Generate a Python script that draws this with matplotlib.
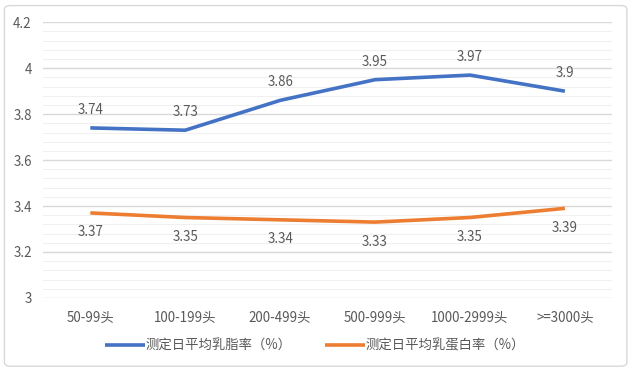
import matplotlib
matplotlib.use("Agg")
import matplotlib.pyplot as plt
from matplotlib.patches import FancyBboxPatch
from matplotlib.ticker import MultipleLocator

plt.rcParams['font.family'] = ['Noto Sans CJK SC', 'DejaVu Sans']

categories = ["50-99头", "100-199头", "200-499头", "500-999头", "1000-2999头", ">=3000头"]
fat_rate = [3.74, 3.73, 3.86, 3.95, 3.97, 3.90]
protein_rate = [3.37, 3.35, 3.34, 3.33, 3.35, 3.39]
fat_labels = ["3.74", "3.73", "3.86", "3.95", "3.97", "3.9"]
protein_labels = ["3.37", "3.35", "3.34", "3.33", "3.35", "3.39"]
series_names = ["测定日平均乳脂率（%）", "测定日平均乳蛋白率（%）"]

blue = "#4472C4"
orange = "#ED7D31"
text_color = "#595959"
fs = 9.6

fig = plt.figure(figsize=(6.3, 3.71), dpi=100)
border = FancyBboxPatch((0.007, 0.013), 0.988, 0.972, boxstyle="round,pad=0,rounding_size=0.01",
                        transform=fig.transFigure, facecolor="none", edgecolor="#D9D9D9", lw=1)
fig.patches.append(border)
ax = fig.add_axes([0.068, 0.197, 0.904, 0.743])

x = range(len(categories))
ax.plot(x, fat_rate, color=blue, lw=2.6, solid_capstyle="butt", label=series_names[0], zorder=3)
ax.plot(x, protein_rate, color=orange, lw=2.6, solid_capstyle="butt", label=series_names[1], zorder=3)

for i, (v, s) in enumerate(zip(fat_rate, fat_labels)):
    ax.annotate(s, (i, v), xytext=(0, 8), textcoords="offset points", ha="center", va="bottom",
                fontsize=fs, color=text_color)
for i, (v, s) in enumerate(zip(protein_rate, protein_labels)):
    ax.annotate(s, (i, v), xytext=(0, -9), textcoords="offset points", ha="center", va="top",
                fontsize=fs, color=text_color)

ax.set_xlim(-0.5, len(categories) - 0.5)
ax.set_ylim(3.0, 4.2)
ax.yaxis.set_major_locator(MultipleLocator(0.2))
ax.yaxis.set_minor_locator(MultipleLocator(0.04))
ax.set_yticks([3.0, 3.2, 3.4, 3.6, 3.8, 4.0, 4.2])
ax.set_yticklabels(["3", "3.2", "3.4", "3.6", "3.8", "4", "4.2"])
ax.set_xticks(list(x))
ax.set_xticklabels(categories)
ax.grid(True, which="major", axis="y", color="#D9D9D9", lw=1)
ax.grid(True, which="minor", axis="y", color="#F0F0F0", lw=0.8)
ax.tick_params(axis="both", which="both", length=0, labelsize=fs, labelcolor=text_color)
ax.tick_params(axis="x", pad=9)
ax.tick_params(axis="y", pad=8)
for sp in ax.spines.values():
    sp.set_visible(False)
ax.set_axisbelow(True)

fig.legend(loc="center", bbox_to_anchor=(0.5, 0.068), ncol=2, frameon=False, fontsize=fs,
           labelcolor=text_color, handlelength=3.0, handletextpad=0.05, columnspacing=2.5)

fig.savefig("out.png", dpi=100)
